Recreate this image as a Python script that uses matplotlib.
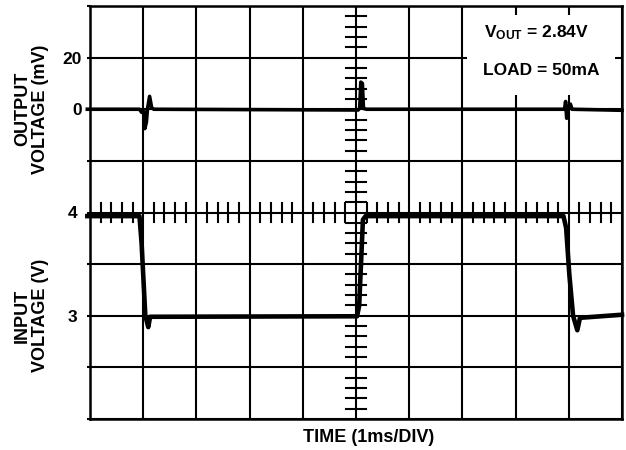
import numpy as np
import matplotlib
matplotlib.use("Agg")
import matplotlib.pyplot as plt
from matplotlib.patches import Rectangle
from matplotlib.transforms import blended_transform_factory

plt.rcParams['font.family'] = ['Liberation Sans', 'DejaVu Sans']
plt.rcParams['font.weight'] = 'bold'
plt.rcParams['mathtext.fontset'] = 'custom'
plt.rcParams['mathtext.rm'] = 'Liberation Sans:bold'
plt.rcParams['mathtext.bf'] = 'Liberation Sans:bold'
plt.rcParams['mathtext.it'] = 'Liberation Sans:bold'

# output voltage trace (ms, mV)
out_t = [-0.05, 0.93, 0.97, 1.02, 1.03, 1.06, 1.08, 1.12, 1.16, 1.20,
         5.04, 5.07, 5.09, 5.12, 5.14, 5.20,
         8.92, 8.94, 8.96, 8.98, 9.00, 9.03, 9.06, 10.0]
out_mv = [0.0, 0.0, -1.2, -1.0, -7.5, -5.0, 0.0, 5.0, 0.5, 0.0,
          -0.3, 0.5, 10.5, 10.0, 0.3, 0.0,
          0.0, 3.0, -3.5, -2.0, 1.5, 2.0, 0.0, -0.4]

# input voltage trace (ms, V)
in_t = [-0.05, 0.93, 0.97, 1.04, 1.095, 1.13, 5.02, 5.06, 5.13, 5.18,
        8.90, 8.95, 9.01, 9.08, 9.16, 9.21, 10.0]
in_v = [3.965, 3.965, 3.70, 3.00, 2.89, 2.99, 2.995, 3.10, 3.93, 3.965,
        3.965, 3.85, 3.40, 3.00, 2.86, 2.98, 3.01]

out_ticks = [0, 20]
in_ticks = [3, 4]

fig = plt.figure(figsize=(6.26, 4.5), dpi=100)
pos = [90 / 626, 31 / 450, 532 / 626, 413 / 450]
ax = fig.add_axes(pos)
ax.set_xlim(0, 10)
ax.set_ylim(2, 6)
ax.set_axisbelow(True)

# scope graticule: 10 x 8 divisions
ax.set_xticks(np.arange(0, 11, 1))
ax.set_xticklabels([])
ax.tick_params(axis='x', length=0)
yt = np.arange(2, 6.01, 0.5)
ax.set_yticks(yt)
ax.set_yticklabels([str(int(v)) if v in in_ticks else '' for v in yt], fontsize=12.5)
ax.tick_params(axis='y', length=2, width=1.5, pad=7, color='black')
ax.grid(True, color='black', linewidth=1.5)
for s in ax.spines.values():
    s.set_linewidth(1.8)

# small ticks along the center lines
for x in np.arange(0.2, 10, 0.2):
    if abs(x - round(x)) > 0.05:
        ax.plot([x, x], [3.905, 4.095], color='black', lw=1.5, zorder=0.8)
for v in np.arange(2.1, 6, 0.1):
    if abs(v * 2 - round(v * 2)) > 0.05:
        ax.plot([4.82, 5.18], [v, v], color='black', lw=1.5, zorder=0.8)

# white box for the annotation
ax.add_patch(Rectangle((7.09, 5.14), 2.78, 0.775, facecolor='white',
                       edgecolor='none', zorder=1))
ax.text(8.40, 5.74, r'V$_{\mathrm{OUT}}$ = 2.84V', ha='center', va='center',
        fontsize=12.5, fontweight='bold', zorder=3)
ax.text(8.49, 5.38, 'LOAD = 50mA', ha='center', va='center',
        fontsize=12.5, fontweight='bold', zorder=3)

ax.plot(in_t, in_v, color='black', lw=3.3, clip_on=False, zorder=4)

# overlay axes for output voltage
ax2 = fig.add_axes(pos, sharex=ax)
ax2.patch.set_visible(False)
for s in ax2.spines.values():
    s.set_visible(False)
ax2.set_ylim(-120, 40)
ax2.set_yticks(out_ticks)
ax2.set_yticklabels([str(v) for v in out_ticks], fontsize=12.5)
ax2.tick_params(axis='y', length=0, pad=6)
ax2.tick_params(axis='x', length=0, labelbottom=False)
ax2.plot(out_t, out_mv, color='black', lw=2.6, clip_on=False)

tr1 = blended_transform_factory(ax2.transAxes, ax2.transData)
ax2.text(-0.11, 0, 'OUTPUT\nVOLTAGE (mV)', rotation=90, ha='center', va='center',
         multialignment='center', linespacing=1.05, fontsize=13,
         fontweight='bold', transform=tr1)
tr2 = blended_transform_factory(ax.transAxes, ax.transData)
ax.text(-0.11, 3, 'INPUT\nVOLTAGE (V)', rotation=90, ha='center', va='center',
        multialignment='center', linespacing=1.05, fontsize=13,
        fontweight='bold', transform=tr2)

fig.text(369 / 626, 1 - 437 / 450, 'TIME (1ms/DIV)', ha='center', va='center',
         fontsize=13, fontweight='bold')

fig.savefig('out.png', dpi=100)
